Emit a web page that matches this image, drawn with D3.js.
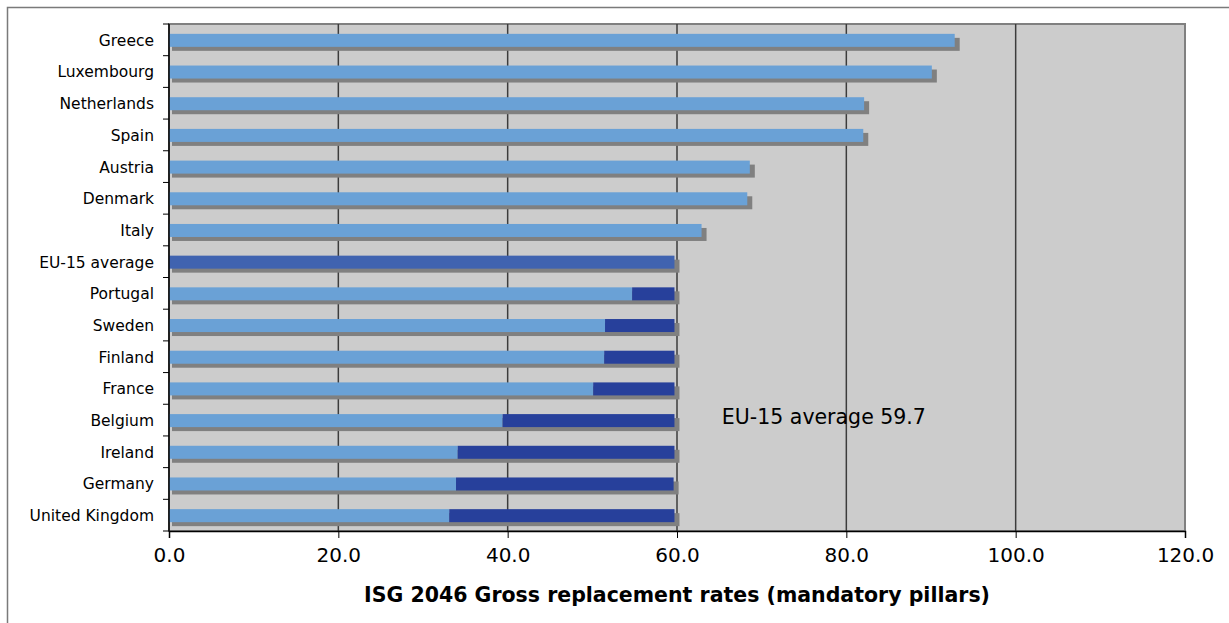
<!DOCTYPE html>
<html>
<head>
<meta charset="utf-8">
<script src="https://cdn.jsdelivr.net/npm/d3@7"></script>
<style>
  body { margin: 0; background: #fff; }
  svg { display: block; font-family: "DejaVu Sans", Verdana, sans-serif; }
</style>
</head>
<body>
<svg id="chart"></svg>
<script>
// data
const countries = ["Greece", "Luxembourg", "Netherlands", "Spain", "Austria", "Denmark", "Italy",
  "EU-15 average", "Portugal", "Sweden", "Finland", "France", "Belgium", "Ireland", "Germany", "United Kingdom"]
// gross replacement rate, mandatory pillars
const rates = [92.8, 90.1, 82.1, 82.0, 68.6, 68.3, 62.9, 59.7, 54.7, 51.5, 51.4, 50.1, 39.4, 34.1, 33.9, 33.1]
// distance to the EU-15 average (dark segment)
const gaps = [0, 0, 0, 0, 0, 0, 0, 0, 5.0, 8.2, 8.3, 9.6, 20.3, 25.6, 25.7, 26.6]
const xTicks = [0, 20, 40, 60, 80, 100, 120]
const averageLabel = "EU-15 average 59.7"
const xTitle = "ISG 2046 Gross replacement rates (mandatory pillars)"

const width = 1229, height = 623
const margin = { top: 24, right: 44, bottom: 92, left: 169 }
const barHeight = 13

const svg = d3.select("#chart")
  .attr("width", width)
  .attr("height", height)
  .attr("viewBox", [0, 0, width, height])

// outer frame, runs off the right and bottom edges like the reference
svg.append("rect")
  .attr("x", 7.5).attr("y", 7.5)
  .attr("width", width).attr("height", height)
  .attr("fill", "#fff")
  .attr("stroke", "#7a7a7a")
  .attr("stroke-width", 1.5)

const x = d3.scaleLinear()
  .domain([0, 120])
  .range([margin.left, width - margin.right])

const y = d3.scaleBand()
  .domain(countries)
  .range([margin.top, height - margin.bottom])

const rows = countries.map((c, i) => ({ name: c, rate: rates[i], gap: gaps[i] }))

// plot background
svg.append("rect")
  .attr("x", x(0)).attr("y", margin.top)
  .attr("width", x(120) - x(0))
  .attr("height", y.range()[1] - margin.top)
  .attr("fill", "#cccccc")
  .attr("stroke", "#808080")
  .attr("stroke-width", 2)

// vertical grid lines
svg.append("g")
    .attr("stroke", "#3c3c3c")
    .attr("stroke-width", 1.5)
  .selectAll("line")
  .data(xTicks.filter(t => t > 0 && t < 120))
  .join("line")
    .attr("x1", d => x(d)).attr("x2", d => x(d))
    .attr("y1", margin.top).attr("y2", y.range()[1])

const barY = d => y(d.name) + (y.bandwidth() - barHeight) / 2 + 0.5

// shadows
svg.append("g")
    .attr("fill", "#808080")
  .selectAll("rect")
  .data(rows)
  .join("rect")
    .attr("x", x(0) + 3)
    .attr("y", d => barY(d) + 4)
    .attr("width", d => x(d.rate + d.gap) - x(0) + 2)
    .attr("height", barHeight)

// main segment
svg.append("g")
  .selectAll("rect")
  .data(rows)
  .join("rect")
    .attr("x", x(0))
    .attr("y", barY)
    .attr("width", d => x(d.rate) - x(0))
    .attr("height", barHeight)
    .attr("fill", d => d.name === "EU-15 average" ? "#4063b0" : "#6aa1d6")

// gap to the average
svg.append("g")
    .attr("fill", "#27409b")
  .selectAll("rect")
  .data(rows.filter(d => d.gap > 0))
  .join("rect")
    .attr("x", d => x(d.rate))
    .attr("y", barY)
    .attr("width", d => x(d.rate + d.gap) - x(d.rate))
    .attr("height", barHeight)

// x axis
svg.append("g")
    .attr("transform", `translate(0,${y.range()[1]})`)
    .call(d3.axisBottom(x).tickValues(xTicks).tickFormat(d3.format(".1f")).tickSize(7).tickPadding(10))
    .call(g => g.select(".domain").attr("stroke", "#000").attr("stroke-width", 1.5))
    .call(g => g.selectAll(".tick line").attr("stroke", "#000"))
    .call(g => g.selectAll(".tick text")
      .attr("font-family", "DejaVu Sans, Verdana, sans-serif")
      .attr("font-size", 20)
      .attr("fill", "#000"))

// y axis line and ticks on category boundaries
const yAxis = svg.append("g")
svg.append("line")
  .attr("x1", x(0)).attr("x2", x(0))
  .attr("y1", margin.top).attr("y2", y.range()[1])
  .attr("stroke", "#000").attr("stroke-width", 1.5)
yAxis.selectAll("line")
  .data(countries.map(c => y(c)).concat(y.range()[1]))
  .join("line")
    .attr("x1", x(0) - 6).attr("x2", x(0))
    .attr("y1", d => d).attr("y2", d => d)
    .attr("stroke", "#000")

// category labels
svg.append("g")
    .attr("text-anchor", "end")
    .attr("font-size", 15.5)
    .attr("fill", "#000")
  .selectAll("text")
  .data(countries)
  .join("text")
    .attr("x", x(0) - 15)
    .attr("y", d => y(d) + y.bandwidth() / 2 + 0.5)
    .attr("dy", "0.35em")
    .text(d => d)

// annotation
svg.append("text")
  .attr("x", x(65.3))
  .attr("y", y("Belgium") + y.bandwidth() / 2)
  .attr("dy", "0.18em")
  .attr("font-size", 20.5)
  .attr("fill", "#000")
  .text(averageLabel)

// x axis title
svg.append("text")
  .attr("x", (x(0) + x(120)) / 2)
  .attr("y", 602)
  .attr("text-anchor", "middle")
  .attr("font-size", 20.5)
  .attr("font-weight", "bold")
  .attr("fill", "#000")
  .text(xTitle)
</script>
</body>
</html>
